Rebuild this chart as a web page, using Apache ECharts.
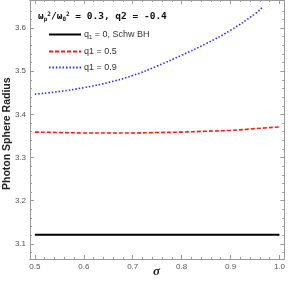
<!DOCTYPE html>
<html><head><meta charset="utf-8">
<script src="https://cdn.jsdelivr.net/npm/echarts@6/dist/echarts.min.js"></script>
<style>html,body{margin:0;padding:0;background:#fff}#c{width:288px;height:285px}</style>
</head><body><div id="c"></div>
<script>
// Data
const sigmaBlack = [0.5, 1.0];
const rBlack = [3.121, 3.121];
const sigmaRed = [0.5, 0.55, 0.6, 0.65, 0.7, 0.75, 0.8, 0.85, 0.9, 0.95, 1.0];
const rRed = [3.359, 3.358, 3.357, 3.357, 3.357, 3.358, 3.359, 3.361, 3.363, 3.367, 3.371];
const sigmaBlue = [0.5, 0.55, 0.6, 0.65, 0.7, 0.75, 0.8, 0.85, 0.9, 0.95, 0.965];
const rBlue = [3.447, 3.453, 3.462, 3.474, 3.490, 3.512, 3.537, 3.564, 3.595, 3.633, 3.648];
const xTicks = [0.5, 0.6, 0.7, 0.8, 0.9, 1.0];
const xMinor = [0.52,0.54,0.56,0.58,0.62,0.64,0.66,0.68,0.72,0.74,0.76,0.78,0.82,0.84,0.86,0.88,0.92,0.94,0.96,0.98];
const yTicks = [3.1, 3.2, 3.3, 3.4, 3.5, 3.6];
const yMinor = [3.08,3.12,3.14,3.16,3.18,3.22,3.24,3.26,3.28,3.32,3.34,3.36,3.38,3.42,3.44,3.46,3.48,3.52,3.54,3.56,3.58,3.62,3.64];
const legendNames = ['q0', 'q05', 'q09'];

const pairs = (xs, ys) => xs.map((x, i) => [x, ys[i]]);
const frameColor = '#9a9a9a';
const XMIN = 0.49, XMAX = 1.01, YMIN = 3.065, YMAX = 3.665;

function xa(pos, major, labels) {
  return {
    type: 'value', position: pos, min: XMIN, max: XMAX, gridIndex: 0,
    axisLine: {show: true, onZero: false, lineStyle: {color: frameColor, width: 1}},
    axisTick: {show: true, inside: true, length: major ? 4 : 2, customValues: major ? xTicks : xMinor, lineStyle: {color: frameColor}},
    axisLabel: labels ? {show: true, customValues: xTicks, formatter: v => v.toFixed(1), fontSize: 8, color: '#555', margin: 4, fontFamily: 'Liberation Sans'} : {show: false},
    splitLine: {show: false}
  };
}
function ya(pos, major, labels) {
  return {
    type: 'value', position: pos, min: YMIN, max: YMAX, gridIndex: 0,
    axisLine: {show: true, onZero: false, lineStyle: {color: frameColor, width: 1}},
    axisTick: {show: true, inside: true, length: major ? 4 : 2, customValues: major ? yTicks : yMinor, lineStyle: {color: frameColor}},
    axisLabel: labels ? {show: true, customValues: yTicks, formatter: v => v.toFixed(1), fontSize: 8, color: '#555', margin: 4, fontFamily: 'Liberation Sans'} : {show: false},
    splitLine: {show: false}
  };
}

const chart = echarts.init(document.getElementById('c'), null, {renderer: 'canvas'});
chart.setOption({
  animation: false,
  grid: {left: 30, right: 2, top: 0, bottom: 26},
  xAxis: [xa('bottom', true, true), xa('bottom', false, false), xa('top', true, false), xa('top', false, false)],
  yAxis: [ya('left', true, true), ya('left', false, false), ya('right', true, false), ya('right', false, false)],
  legend: {
    show: true, orient: 'vertical', left: 48, top: 30, padding: 0, itemWidth: 32, itemHeight: 8, itemGap: 7,
    data: legendNames,
    itemStyle: {opacity: 0},
    formatter: n => ({q0: '{a|q}{s|1}{a| = 0, Schw BH}', q05: '{a|q1 = 0.5}', q09: '{a|q1 = 0.9}'}[n]),
    textStyle: {
      fontSize: 9, color: '#333', padding: [0, 0, 0, -2],
      rich: {
        a: {fontSize: 9, color: '#333', fontFamily: 'Liberation Sans'},
        s: {fontSize: 6, color: '#333', fontFamily: 'Liberation Sans', padding: [5, 0, 0, 0]}
      }
    }
  },
  graphic: [
    {type: 'text', left: 38, top: 11, style: {
      text: '{b|ω}{sb|p}{su|2}{b|/ω}{sb|0}{su|2}{b| = 0.3, q2 = -0.4}',
      rich: {
        b: {fontSize: 9.5, fontWeight: 'bold', fontFamily: 'DejaVu Sans Mono', fill: '#111'},
        sb: {fontSize: 6, fontWeight: 'bold', fontFamily: 'DejaVu Sans Mono', fill: '#111', padding: [5, 0, 0, 0]},
        su: {fontSize: 6, fontWeight: 'bold', fontFamily: 'DejaVu Sans Mono', fill: '#111', padding: [0, 0, 6, 0]}
      }
    }},
    {type: 'text', x: 2, y: 190, rotation: Math.PI / 2,
      style: {text: 'Photon Sphere Radius', fontSize: 10.5, fontWeight: 'bold', fontFamily: 'Liberation Sans', fill: '#222'}},
    {type: 'text', left: 153, top: 265, style: {text: 'σ', fontSize: 13, fontStyle: 'italic', fontWeight: 'bold', fontFamily: 'Liberation Serif', fill: '#222'}}
  ],
  series: [
    {name: 'q0', type: 'line', xAxisIndex: 0, yAxisIndex: 0, data: pairs(sigmaBlack, rBlack), symbol: 'none',
      lineStyle: {color: '#000', width: 2}, itemStyle: {color: '#000'}},
    {name: 'q05', type: 'line', xAxisIndex: 0, yAxisIndex: 0, data: pairs(sigmaRed, rRed), symbol: 'none', smooth: true,
      lineStyle: {color: '#ff1a1a', width: 1.6, type: [4, 2]}, itemStyle: {color: '#ff1a1a'}},
    {name: 'q09', type: 'line', xAxisIndex: 0, yAxisIndex: 0, data: pairs(sigmaBlue, rBlue), symbol: 'none', smooth: true,
      lineStyle: {color: '#2a2aff', width: 1.6, type: [1.5, 1.9]}, itemStyle: {color: '#2a2aff'}}
  ]
});
</script></body></html>
